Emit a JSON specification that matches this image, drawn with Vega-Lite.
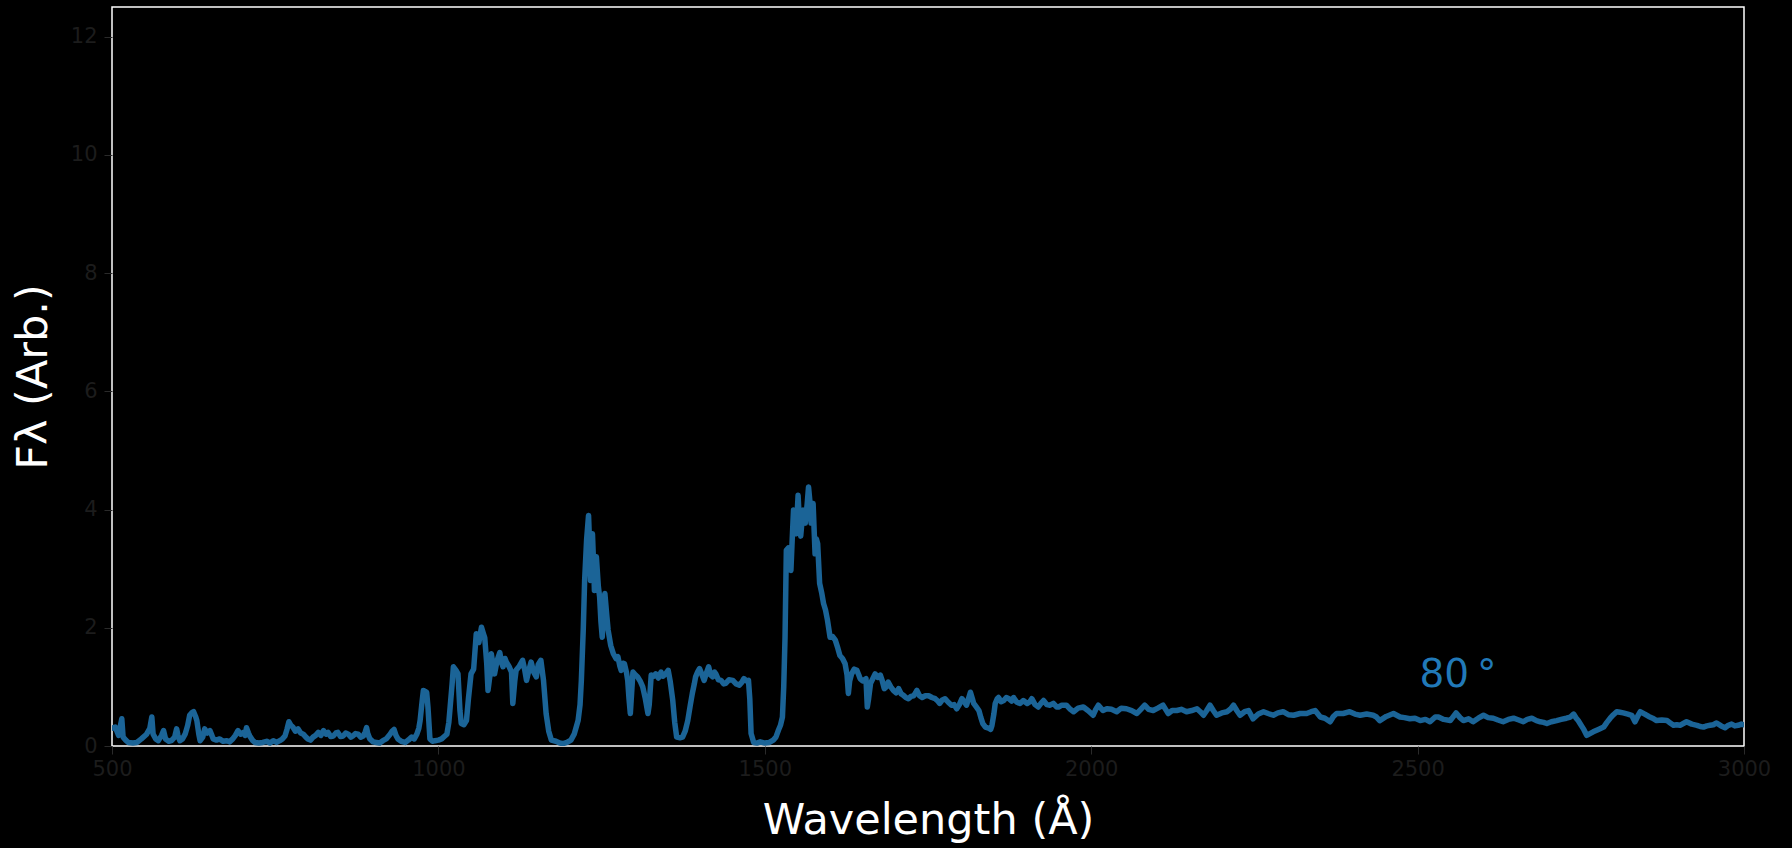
{
  "$schema": "https://vega.github.io/schema/vega-lite/v6.json",
  "autosize": "none",
  "width": 1632,
  "height": 739,
  "padding": {"left": 112, "top": 7, "right": 48, "bottom": 102},
  "background": "#000000",
  "config": {
    "view": {"stroke": "#ffffff", "strokeWidth": 1.5},
    "axis": {
      "grid": false,
      "domain": false,
      "tickColor": "#2a2a2a",
      "tickSize": 8,
      "tickWidth": 1,
      "labelFont": "DejaVu Sans",
      "labelFontSize": 21,
      "labelColor": "#1c1c1c",
      "titleFont": "DejaVu Sans",
      "titleFontSize": 43,
      "titleFontWeight": "normal",
      "titleColor": "#ffffff",
      "format": "d"
    }
  },
  "datasets": {
    "spectrum": [
      {"w":500,"f":0.30},{"w":505,"f":0.32},{"w":510,"f":0.18},{"w":515,"f":0.46},{"w":517,"f":0.15},{"w":521,"f":0.10},{"w":525,"f":0.06},{"w":532,"f":0.05},{"w":538,"f":0.06},{"w":545,"f":0.12},{"w":553,"f":0.20},{"w":558,"f":0.30},{"w":561,"f":0.49},{"w":563,"f":0.20},{"w":567,"f":0.12},{"w":571,"f":0.09},{"w":576,"f":0.18},{"w":579,"f":0.26},{"w":582,"f":0.12},{"w":587,"f":0.08},{"w":591,"f":0.09},{"w":596,"f":0.15},{"w":599,"f":0.29},{"w":601,"f":0.18},{"w":604,"f":0.09},{"w":608,"f":0.12},{"w":612,"f":0.20},{"w":616,"f":0.35},{"w":619,"f":0.52},{"w":622,"f":0.56},{"w":625,"f":0.58},{"w":628,"f":0.50},{"w":630,"f":0.43},{"w":633,"f":0.20},{"w":635,"f":0.09},{"w":639,"f":0.15},{"w":642,"f":0.29},{"w":646,"f":0.22},{"w":650,"f":0.26},{"w":653,"f":0.18},{"w":655,"f":0.12},{"w":660,"f":0.10},{"w":665,"f":0.12},{"w":670,"f":0.08},{"w":676,"f":0.09},{"w":680,"f":0.07},{"w":685,"f":0.12},{"w":689,"f":0.18},{"w":693,"f":0.26},{"w":697,"f":0.20},{"w":701,"f":0.23},{"w":704,"f":0.18},{"w":706,"f":0.31},{"w":709,"f":0.22},{"w":711,"f":0.17},{"w":715,"f":0.10},{"w":719,"f":0.06},{"w":725,"f":0.05},{"w":731,"f":0.06},{"w":737,"f":0.08},{"w":742,"f":0.05},{"w":747,"f":0.09},{"w":752,"f":0.06},{"w":757,"f":0.09},{"w":761,"f":0.12},{"w":765,"f":0.17},{"w":768,"f":0.28},{"w":771,"f":0.41},{"w":774,"f":0.35},{"w":777,"f":0.32},{"w":781,"f":0.25},{"w":785,"f":0.29},{"w":789,"f":0.22},{"w":793,"f":0.20},{"w":797,"f":0.15},{"w":800,"f":0.12},{"w":804,"f":0.10},{"w":808,"f":0.15},{"w":812,"f":0.18},{"w":816,"f":0.23},{"w":820,"f":0.18},{"w":824,"f":0.26},{"w":828,"f":0.20},{"w":831,"f":0.23},{"w":835,"f":0.16},{"w":839,"f":0.17},{"w":843,"f":0.22},{"w":846,"f":0.23},{"w":850,"f":0.16},{"w":854,"f":0.17},{"w":858,"f":0.22},{"w":862,"f":0.20},{"w":866,"f":0.15},{"w":869,"f":0.17},{"w":873,"f":0.21},{"w":877,"f":0.20},{"w":881,"f":0.15},{"w":885,"f":0.17},{"w":888,"f":0.24},{"w":890,"f":0.31},{"w":892,"f":0.20},{"w":895,"f":0.12},{"w":900,"f":0.07},{"w":905,"f":0.06},{"w":910,"f":0.05},{"w":915,"f":0.09},{"w":920,"f":0.12},{"w":926,"f":0.20},{"w":929,"f":0.25},{"w":932,"f":0.28},{"w":935,"f":0.18},{"w":938,"f":0.12},{"w":943,"f":0.08},{"w":949,"f":0.06},{"w":954,"f":0.10},{"w":959,"f":0.15},{"w":963,"f":0.12},{"w":967,"f":0.20},{"w":970,"f":0.30},{"w":972,"f":0.43},{"w":975,"f":0.75},{"w":977,"f":0.94},{"w":980,"f":0.92},{"w":982,"f":0.91},{"w":984,"f":0.66},{"w":986,"f":0.30},{"w":987,"f":0.12},{"w":991,"f":0.08},{"w":995,"f":0.09},{"w":1000,"f":0.10},{"w":1005,"f":0.12},{"w":1009,"f":0.16},{"w":1013,"f":0.20},{"w":1016,"f":0.40},{"w":1018,"f":0.66},{"w":1021,"f":1.05},{"w":1023,"f":1.34},
      {"w":1027,"f":1.28},{"w":1030,"f":1.22},{"w":1033,"f":0.60},{"w":1035,"f":0.38},{"w":1039,"f":0.36},{"w":1043,"f":0.43},{"w":1046,"f":0.80},{"w":1050,"f":1.22},{"w":1054,"f":1.30},{"w":1058,"f":1.90},{"w":1062,"f":1.75},{"w":1066,"f":2.01},{"w":1069,"f":1.90},{"w":1071,"f":1.83},{"w":1074,"f":1.40},{"w":1076,"f":0.94},{"w":1079,"f":1.20},{"w":1081,"f":1.56},{"w":1084,"f":1.35},{"w":1086,"f":1.22},{"w":1090,"f":1.45},{"w":1094,"f":1.58},{"w":1097,"f":1.40},{"w":1099,"f":1.34},{"w":1102,"f":1.48},{"w":1104,"f":1.42},{"w":1108,"f":1.35},{"w":1112,"f":1.25},{"w":1114,"f":0.72},{"w":1117,"f":1.10},{"w":1119,"f":1.28},{"w":1124,"f":1.35},{"w":1129,"f":1.45},{"w":1132,"f":1.30},{"w":1135,"f":1.11},{"w":1139,"f":1.30},{"w":1142,"f":1.42},{"w":1146,"f":1.25},{"w":1150,"f":1.17},{"w":1153,"f":1.38},{"w":1157,"f":1.45},{"w":1161,"f":1.11},{"w":1165,"f":0.55},{"w":1169,"f":0.25},{"w":1173,"f":0.10},{"w":1180,"f":0.08},{"w":1186,"f":0.05},{"w":1191,"f":0.04},{"w":1197,"f":0.06},{"w":1203,"f":0.10},{"w":1208,"f":0.20},{"w":1214,"f":0.43},{"w":1217,"f":0.70},{"w":1219,"f":1.11},{"w":1222,"f":2.00},{"w":1224,"f":2.80},{"w":1227,"f":3.48},{"w":1230,"f":3.90},{"w":1231,"f":3.60},{"w":1233,"f":2.80},{"w":1235,"f":3.30},{"w":1236,"f":3.59},{"w":1238,"f":3.00},{"w":1239,"f":2.63},{"w":1241,"f":3.00},{"w":1242,"f":3.20},{"w":1245,"f":2.70},{"w":1247,"f":2.52},{"w":1249,"f":2.10},{"w":1251,"f":1.84},{"w":1253,"f":2.30},{"w":1255,"f":2.58},{"w":1258,"f":2.20},{"w":1260,"f":1.96},{"w":1264,"f":1.70},{"w":1268,"f":1.56},{"w":1272,"f":1.48},{"w":1275,"f":1.51},{"w":1278,"f":1.35},{"w":1280,"f":1.28},{"w":1283,"f":1.40},{"w":1285,"f":1.39},{"w":1288,"f":1.25},{"w":1290,"f":1.11},{"w":1292,"f":0.80},{"w":1294,"f":0.55},{"w":1296,"f":0.90},{"w":1298,"f":1.25},{"w":1302,"f":1.20},{"w":1305,"f":1.17},{"w":1309,"f":1.10},{"w":1313,"f":1.00},{"w":1317,"f":0.80},{"w":1321,"f":0.55},{"w":1323,"f":0.70},{"w":1326,"f":1.20},{"w":1330,"f":1.18},{"w":1333,"f":1.22},{"w":1337,"f":1.15},{"w":1341,"f":1.25},{"w":1344,"f":1.18},{"w":1348,"f":1.22},{"w":1352,"f":1.28},{"w":1355,"f":1.10},{"w":1359,"f":0.77},{"w":1362,"f":0.40},{"w":1365,"f":0.15},{"w":1370,"f":0.14},{"w":1374,"f":0.15},{"w":1378,"f":0.25},{"w":1382,"f":0.43},{"w":1386,"f":0.70},{"w":1389,"f":0.89},{"w":1392,"f":1.05},{"w":1394,"f":1.17},{"w":1397,"f":1.25},{"w":1400,"f":1.31},{"w":1404,"f":1.20},{"w":1407,"f":1.11},{"w":1411,"f":1.25},{"w":1414,"f":1.34},{"w":1417,"f":1.20},{"w":1420,"f":1.17},{"w":1423,"f":1.25},{"w":1425,"f":1.22},{"w":1429,"f":1.12},{"w":1433,"f":1.11},{"w":1437,"f":1.05},{"w":1440,"f":1.06},{"w":1445,"f":1.12},{"w":1451,"f":1.11},{"w":1456,"f":1.05},{"w":1461,"f":1.03},{"w":1465,"f":1.08},{"w":1468,"f":1.14},{"w":1472,"f":1.10},{"w":1475,"f":1.11},{"w":1477,"f":0.80},{"w":1479,"f":0.21},{"w":1483,"f":0.06},{"w":1488,"f":0.05},{"w":1493,"f":0.07},{"w":1500,"f":0.05},{"w":1507,"f":0.06},{"w":1513,"f":0.10},{"w":1517,"f":0.15},{"w":1521,"f":0.27},{"w":1524,"f":0.35},{"w":1527,"f":0.49},{"w":1529,"f":1.00},{"w":1531,"f":1.84},{"w":1533,"f":3.31},{"w":1536,"f":3.35},{"w":1538,"f":3.31},{"w":1540,"f":2.97},{"w":1542,"f":3.50},{"w":1544,"f":3.99},{"w":1546,"f":3.70},{"w":1548,"f":3.59},{"w":1551,"f":4.24},{"w":1553,"f":3.80},{"w":1555,"f":3.55},{"w":1557,"f":3.80},{"w":1559,"f":3.99},{"w":1562,"f":3.77},{"w":1565,"f":4.10},{"w":1567,"f":4.38},{"w":1569,"f":4.15},{"w":1571,"f":3.77},{"w":1574,"f":4.10},{"w":1577,"f":3.25},{"w":1579,"f":3.50},{"w":1581,"f":3.42},{"w":1584,"f":2.75},{"w":1587,"f":2.60},{"w":1590,"f":2.41},{"w":1593,"f":2.30},{"w":1596,"f":2.13},{"w":1600,"f":1.84},{"w":1604,"f":1.85},{"w":1608,"f":1.79},{"w":1612,"f":1.65},{"w":1615,"f":1.53},{"w":1619,"f":1.48},{"w":1623,"f":1.39},{"w":1626,"f":1.20},{"w":1628,"f":0.89},{"w":1630,"f":1.10},{"w":1633,"f":1.22},{"w":1637,"f":1.30},{"w":1641,"f":1.28},{"w":1644,"f":1.20},{"w":1646,"f":1.14},{"w":1650,"f":1.10},{"w":1655,"f":1.14},{"w":1657,"f":0.66},{"w":1659,"f":0.80},{"w":1662,"f":1.06},{"w":1666,"f":1.15},{"w":1669,"f":1.22},{"w":1673,"f":1.16},{"w":1677,"f":1.20},{"w":1680,"f":1.10},{"w":1683,"f":0.97},{"w":1686,"f":1.00},{"w":1689,"f":1.08},{"w":1693,"f":1.00},{"w":1697,"f":0.94},{"w":1701,"f":0.90},{"w":1705,"f":0.97},{"w":1709,"f":0.88},{"w":1712,"f":0.86},{"w":1716,"f":0.82},{"w":1720,"f":0.80},{"w":1724,"f":0.84},{"w":1728,"f":0.85},{"w":1731,"f":0.90},{"w":1733,"f":0.94},{"w":1737,"f":0.85},{"w":1741,"f":0.82},{"w":1746,"f":0.85},{"w":1751,"f":0.85},{"w":1756,"f":0.82},{"w":1761,"f":0.80},{"w":1765,"f":0.76},{"w":1768,"f":0.72},{"w":1772,"f":0.78},{"w":1776,"f":0.80},{"w":1781,"f":0.74},{"w":1786,"f":0.69},{"w":1790,"f":0.70},{"w":1794,"f":0.63},{"w":1798,"f":0.70},{"w":1802,"f":0.80},{"w":1806,"f":0.74},{"w":1809,"f":0.69},{"w":1812,"f":0.80},{"w":1815,"f":0.91},{"w":1818,"f":0.80},{"w":1820,"f":0.72},{"w":1824,"f":0.66},{"w":1828,"f":0.60},{"w":1831,"f":0.48},{"w":1834,"f":0.38},{"w":1838,"f":0.32},{"w":1843,"f":0.30},{"w":1846,"f":0.28},{"w":1848,"f":0.35},{"w":1851,"f":0.55},{"w":1853,"f":0.72},{"w":1856,"f":0.80},{"w":1858,"f":0.82},{"w":1862,"f":0.75},{"w":1866,"f":0.77},{"w":1870,"f":0.82},{"w":1874,"f":0.80},{"w":1878,"f":0.76},{"w":1881,"f":0.82},{"w":1886,"f":0.74},{"w":1891,"f":0.72},{"w":1896,"f":0.77},{"w":1902,"f":0.72},{"w":1906,"f":0.75},{"w":1909,"f":0.80},{"w":1914,"f":0.70},{"w":1919,"f":0.66},{"w":1923,"f":0.72},{"w":1927,"f":0.77},{"w":1932,"f":0.70},{"w":1937,"f":0.69},{"w":1942,"f":0.72},{"w":1947,"f":0.66},{"w":1950,"f":0.66},
      {"w":1955,"f":0.69},{"w":1962,"f":0.69},{"w":1968,"f":0.62},{"w":1973,"f":0.58},{"w":1980,"f":0.64},{"w":1988,"f":0.66},{"w":1995,"f":0.60},{"w":2003,"f":0.52},{"w":2007,"f":0.62},{"w":2011,"f":0.69},{"w":2018,"f":0.60},{"w":2024,"f":0.63},{"w":2031,"f":0.62},{"w":2039,"f":0.58},{"w":2046,"f":0.64},{"w":2054,"f":0.63},{"w":2062,"f":0.60},{"w":2070,"f":0.55},{"w":2076,"f":0.62},{"w":2082,"f":0.69},{"w":2088,"f":0.62},{"w":2095,"f":0.60},{"w":2102,"f":0.64},{"w":2110,"f":0.69},{"w":2114,"f":0.62},{"w":2118,"f":0.55},{"w":2124,"f":0.60},{"w":2131,"f":0.60},{"w":2138,"f":0.62},{"w":2146,"f":0.58},{"w":2154,"f":0.60},{"w":2162,"f":0.63},{"w":2167,"f":0.58},{"w":2172,"f":0.52},{"w":2177,"f":0.60},{"w":2182,"f":0.69},{"w":2187,"f":0.60},{"w":2192,"f":0.52},{"w":2200,"f":0.56},{"w":2208,"f":0.58},{"w":2213,"f":0.62},{"w":2218,"f":0.69},{"w":2223,"f":0.60},{"w":2228,"f":0.52},{"w":2235,"f":0.58},{"w":2241,"f":0.60},{"w":2248,"f":0.46},{"w":2256,"f":0.54},{"w":2264,"f":0.58},{"w":2271,"f":0.55},{"w":2279,"f":0.52},{"w":2286,"f":0.56},{"w":2294,"f":0.58},{"w":2302,"f":0.53},{"w":2310,"f":0.52},{"w":2320,"f":0.55},{"w":2330,"f":0.55},{"w":2337,"f":0.58},{"w":2343,"f":0.60},{"w":2351,"f":0.49},{"w":2358,"f":0.47},{"w":2366,"f":0.41},{"w":2371,"f":0.50},{"w":2376,"f":0.55},{"w":2386,"f":0.55},{"w":2396,"f":0.58},{"w":2404,"f":0.54},{"w":2412,"f":0.52},{"w":2422,"f":0.54},{"w":2432,"f":0.52},{"w":2437,"f":0.49},{"w":2442,"f":0.43},{"w":2452,"f":0.50},{"w":2463,"f":0.55},{"w":2468,"f":0.52},{"w":2473,"f":0.49},{"w":2480,"f":0.48},{"w":2488,"f":0.46},{"w":2496,"f":0.47},{"w":2504,"f":0.43},{"w":2512,"f":0.45},{"w":2519,"f":0.41},{"w":2527,"f":0.49},{"w":2532,"f":0.49},
      {"w":2540,"f":0.45},{"w":2550,"f":0.43},{"w":2559,"f":0.56},{"w":2565,"f":0.48},{"w":2570,"f":0.43},{"w":2578,"f":0.46},{"w":2585,"f":0.41},{"w":2593,"f":0.47},{"w":2601,"f":0.52},{"w":2608,"f":0.48},{"w":2616,"f":0.47},{"w":2623,"f":0.44},{"w":2631,"f":0.41},{"w":2639,"f":0.45},{"w":2647,"f":0.47},{"w":2655,"f":0.44},{"w":2662,"f":0.41},{"w":2668,"f":0.45},{"w":2675,"f":0.47},{"w":2682,"f":0.43},{"w":2688,"f":0.41},{"w":2693,"f":0.40},{"w":2698,"f":0.38},{"w":2705,"f":0.41},{"w":2713,"f":0.43},{"w":2720,"f":0.45},{"w":2728,"f":0.47},{"w":2734,"f":0.49},{"w":2739,"f":0.54},{"w":2743,"f":0.47},{"w":2746,"f":0.43},{"w":2750,"f":0.36},{"w":2754,"f":0.29},{"w":2759,"f":0.18},{"w":2764,"f":0.21},{"w":2769,"f":0.24},{"w":2777,"f":0.28},{"w":2785,"f":0.32},{"w":2790,"f":0.40},{"w":2795,"f":0.47},{"w":2800,"f":0.53},{"w":2805,"f":0.58},{"w":2810,"f":0.57},{"w":2815,"f":0.56},{"w":2822,"f":0.54},{"w":2828,"f":0.52},{"w":2833,"f":0.41},{"w":2837,"f":0.50},{"w":2841,"f":0.58},{"w":2848,"f":0.54},{"w":2854,"f":0.50},{"w":2860,"f":0.47},{"w":2866,"f":0.43},{"w":2874,"f":0.44},{"w":2882,"f":0.43},{"w":2887,"f":0.39},{"w":2892,"f":0.35},{"w":2897,"f":0.36},{"w":2902,"f":0.35},{"w":2907,"f":0.38},{"w":2912,"f":0.41},{"w":2920,"f":0.37},{"w":2928,"f":0.35},{"w":2933,"f":0.33},{"w":2938,"f":0.32},{"w":2943,"f":0.34},{"w":2948,"f":0.35},{"w":2953,"f":0.36},{"w":2958,"f":0.39},{"w":2965,"f":0.34},{"w":2971,"f":0.31},{"w":2976,"f":0.35},{"w":2981,"f":0.37},{"w":2986,"f":0.34},{"w":2991,"f":0.35},{"w":2996,"f":0.37},{"w":3000,"f":0.36}
    ],
    "annotation": [
      {"w": 2503, "f": 1.0, "label": "80\u2009°"}
    ]
  },
  "layer": [
    {
      "data": {"name": "spectrum"},
      "mark": {"type": "line", "color": "#1b6497", "strokeWidth": 5.5, "strokeJoin": "round", "strokeCap": "round", "clip": true},
      "encoding": {
        "x": {
          "field": "w", "type": "quantitative",
          "scale": {"domain": [500, 3000], "nice": false, "zero": false},
          "axis": {"values": [500, 1000, 1500, 2000, 2500, 3000], "title": "Wavelength (Å)", "labelPadding": 4, "titlePadding": 20, "labelFlush": false}
        },
        "y": {
          "field": "f", "type": "quantitative",
          "scale": {"domain": [0, 12.5], "nice": false, "zero": true},
          "axis": {"values": [0, 2, 4, 6, 8, 10, 12], "title": "Fλ (Arb.)", "labelPadding": 7, "titlePadding": 15}
        }
      }
    },
    {
      "data": {"name": "annotation"},
      "mark": {"type": "text", "align": "left", "baseline": "alphabetic", "font": "DejaVu Sans", "fontSize": 39, "color": "#2179b8"},
      "encoding": {
        "x": {"field": "w", "type": "quantitative"},
        "y": {"field": "f", "type": "quantitative"},
        "text": {"field": "label"}
      }
    }
  ]
}
